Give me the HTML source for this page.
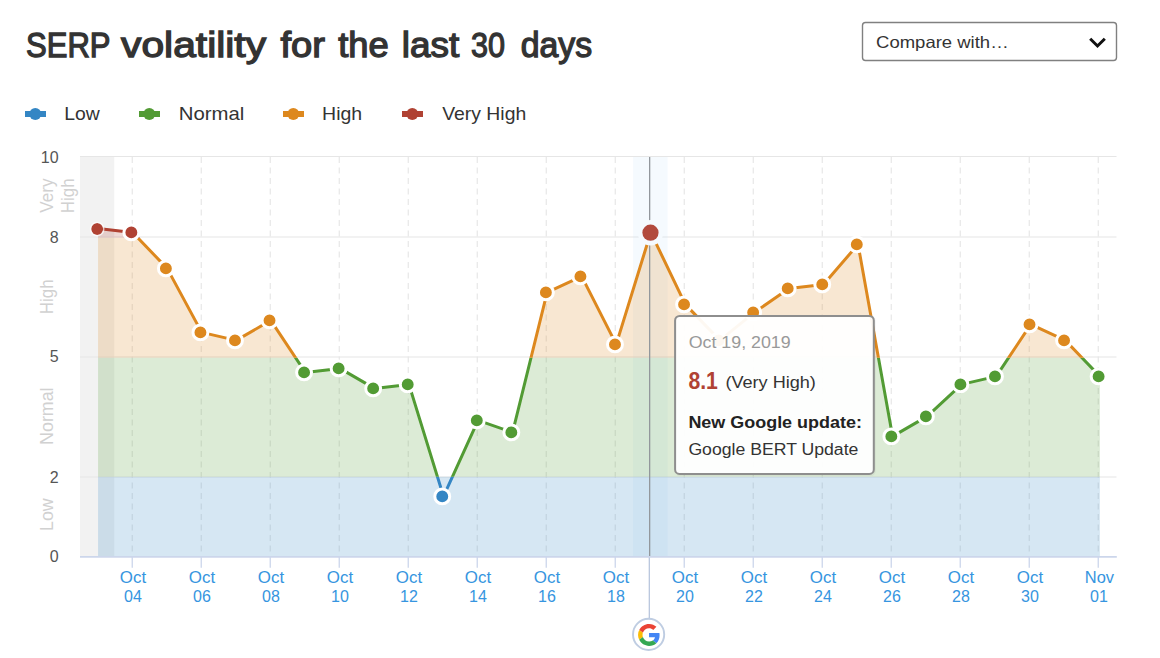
<!DOCTYPE html>
<html lang="en">
<head>
<meta charset="utf-8">
<title>SERP volatility for the last 30 days</title>
<style>
html,body{margin:0;padding:0;background:#fff;}
body{width:1160px;height:658px;overflow:hidden;font-family:"Liberation Sans", sans-serif;}
svg{display:block;}
text{font-family:"Liberation Sans", sans-serif;}
</style>
</head>
<body>
<svg width="1160" height="658" viewBox="0 0 1160 658">
<defs>
<clipPath id="zr"><rect x="0" y="0" width="1160" height="237.7"/></clipPath>
<clipPath id="zo"><rect x="0" y="237.7" width="1160" height="120"/></clipPath>
<clipPath id="zg"><rect x="0" y="357.7" width="1160" height="119.1"/></clipPath>
<clipPath id="zb"><rect x="0" y="476.8" width="1160" height="223.2"/></clipPath>
</defs>
<text x="26" y="57.4" font-size="35" fill="#333333" stroke="#333333" stroke-width="1.3" textLength="84.51" lengthAdjust="spacingAndGlyphs">SERP</text>
<text x="121" y="57.4" font-size="35" fill="#333333" stroke="#333333" stroke-width="1.3" textLength="145.04" lengthAdjust="spacingAndGlyphs">volatility</text>
<text x="280.5" y="57.4" font-size="35" fill="#333333" stroke="#333333" stroke-width="1.3" textLength="44.57" lengthAdjust="spacingAndGlyphs">for</text>
<text x="338.2" y="57.4" font-size="35" fill="#333333" stroke="#333333" stroke-width="1.3" textLength="50.52" lengthAdjust="spacingAndGlyphs">the</text>
<text x="401.8" y="57.4" font-size="35" fill="#333333" stroke="#333333" stroke-width="1.3" textLength="57.51" lengthAdjust="spacingAndGlyphs">last</text>
<text x="471" y="57.4" font-size="35" fill="#333333" stroke="#333333" stroke-width="1.3" textLength="34.01" lengthAdjust="spacingAndGlyphs">30</text>
<text x="520.7" y="57.4" font-size="35" fill="#333333" stroke="#333333" stroke-width="1.3" textLength="71.51" lengthAdjust="spacingAndGlyphs">days</text>
<rect x="862.5" y="22.5" width="254" height="38" rx="3" ry="3" fill="#ffffff" stroke="#808080" stroke-width="1.4"/>
<text x="876.1" y="48.1" font-size="16.5" fill="#333333" textLength="132.54" lengthAdjust="spacingAndGlyphs">Compare with…</text>
<path d="M1090.2 38.8 L1097.5 46 L1104.8 38.8" fill="none" stroke="#111111" stroke-width="3" stroke-linejoin="miter"/>
<rect x="25" y="111" width="21" height="6" fill="#3486c4"/><circle cx="35.3" cy="114" r="6" fill="#3486c4"/>
<text x="64.2" y="119.8" font-size="19" fill="#333333" textLength="35.53" lengthAdjust="spacingAndGlyphs">Low</text>
<rect x="139" y="111" width="21" height="6" fill="#529b34"/><circle cx="149.3" cy="114" r="6" fill="#529b34"/>
<text x="178.8" y="119.8" font-size="19" fill="#333333" textLength="65.53" lengthAdjust="spacingAndGlyphs">Normal</text>
<rect x="283" y="111" width="21" height="6" fill="#dd881e"/><circle cx="293.3" cy="114" r="6" fill="#dd881e"/>
<text x="322.1" y="119.8" font-size="19" fill="#333333" textLength="40.06" lengthAdjust="spacingAndGlyphs">High</text>
<rect x="402" y="111" width="21" height="6" fill="#b04233"/><circle cx="412.3" cy="114" r="6" fill="#b04233"/>
<text x="442.2" y="119.8" font-size="19" fill="#333333" textLength="84.01" lengthAdjust="spacingAndGlyphs">Very High</text>
<rect x="80" y="156.5" width="34.2725" height="400.5" fill="#f2f2f2"/>
<line x1="80" y1="156.4" x2="1116.5" y2="156.4" stroke="#e6e6e6" stroke-width="1.05"/>
<line x1="80" y1="237" x2="1116.5" y2="237" stroke="#e6e6e6" stroke-width="1.05"/>
<line x1="80" y1="357" x2="1116.5" y2="357" stroke="#e6e6e6" stroke-width="1.05"/>
<line x1="80" y1="477" x2="1116.5" y2="477" stroke="#e6e6e6" stroke-width="1.05"/>
<line x1="132.25" y1="157" x2="132.25" y2="557" stroke="#e6e6e6" stroke-width="1.15" stroke-dasharray="6 4.5"/>
<line x1="201.25" y1="157" x2="201.25" y2="557" stroke="#e6e6e6" stroke-width="1.15" stroke-dasharray="6 4.5"/>
<line x1="270.25" y1="157" x2="270.25" y2="557" stroke="#e6e6e6" stroke-width="1.15" stroke-dasharray="6 4.5"/>
<line x1="339.25" y1="157" x2="339.25" y2="557" stroke="#e6e6e6" stroke-width="1.15" stroke-dasharray="6 4.5"/>
<line x1="408.25" y1="157" x2="408.25" y2="557" stroke="#e6e6e6" stroke-width="1.15" stroke-dasharray="6 4.5"/>
<line x1="477.25" y1="157" x2="477.25" y2="557" stroke="#e6e6e6" stroke-width="1.15" stroke-dasharray="6 4.5"/>
<line x1="546.25" y1="157" x2="546.25" y2="557" stroke="#e6e6e6" stroke-width="1.15" stroke-dasharray="6 4.5"/>
<line x1="615.25" y1="157" x2="615.25" y2="557" stroke="#e6e6e6" stroke-width="1.15" stroke-dasharray="6 4.5"/>
<line x1="684.25" y1="157" x2="684.25" y2="557" stroke="#e6e6e6" stroke-width="1.15" stroke-dasharray="6 4.5"/>
<line x1="753.25" y1="157" x2="753.25" y2="557" stroke="#e6e6e6" stroke-width="1.15" stroke-dasharray="6 4.5"/>
<line x1="822.25" y1="157" x2="822.25" y2="557" stroke="#e6e6e6" stroke-width="1.15" stroke-dasharray="6 4.5"/>
<line x1="891.25" y1="157" x2="891.25" y2="557" stroke="#e6e6e6" stroke-width="1.15" stroke-dasharray="6 4.5"/>
<line x1="960.25" y1="157" x2="960.25" y2="557" stroke="#e6e6e6" stroke-width="1.15" stroke-dasharray="6 4.5"/>
<line x1="1029.25" y1="157" x2="1029.25" y2="557" stroke="#e6e6e6" stroke-width="1.15" stroke-dasharray="6 4.5"/>
<line x1="1098.25" y1="157" x2="1098.25" y2="557" stroke="#e6e6e6" stroke-width="1.15" stroke-dasharray="6 4.5"/>
<rect x="633.05" y="157" width="34.55" height="400" fill="#cfe6fa" fill-opacity="0.2"/>
<path d="M98.05 557.00 L98.05 228.40 L132.60 232.40 L167.14 268.40 L201.69 332.40 L236.23 340.40 L270.78 320.40 L305.32 372.40 L339.87 368.40 L374.41 388.40 L408.96 384.40 L443.50 496.40 L478.05 420.40 L512.59 432.40 L547.13 292.40 L581.68 276.40 L616.23 344.40 L650.77 232.40 L685.31 304.40 L719.86 340.40 L754.40 312.40 L788.95 288.40 L823.50 284.40 L858.04 244.40 L892.59 436.40 L927.13 416.40 L961.67 384.40 L996.22 376.40 L1030.77 324.40 L1065.31 340.40 L1099.86 376.40 L1099.86 557.00 Z" fill="#b04233" fill-opacity="0.2" clip-path="url(#zr)"/>
<path d="M98.05 557.00 L98.05 228.40 L132.60 232.40 L167.14 268.40 L201.69 332.40 L236.23 340.40 L270.78 320.40 L305.32 372.40 L339.87 368.40 L374.41 388.40 L408.96 384.40 L443.50 496.40 L478.05 420.40 L512.59 432.40 L547.13 292.40 L581.68 276.40 L616.23 344.40 L650.77 232.40 L685.31 304.40 L719.86 340.40 L754.40 312.40 L788.95 288.40 L823.50 284.40 L858.04 244.40 L892.59 436.40 L927.13 416.40 L961.67 384.40 L996.22 376.40 L1030.77 324.40 L1065.31 340.40 L1099.86 376.40 L1099.86 557.00 Z" fill="#dd881e" fill-opacity="0.2" clip-path="url(#zo)"/>
<path d="M98.05 557.00 L98.05 228.40 L132.60 232.40 L167.14 268.40 L201.69 332.40 L236.23 340.40 L270.78 320.40 L305.32 372.40 L339.87 368.40 L374.41 388.40 L408.96 384.40 L443.50 496.40 L478.05 420.40 L512.59 432.40 L547.13 292.40 L581.68 276.40 L616.23 344.40 L650.77 232.40 L685.31 304.40 L719.86 340.40 L754.40 312.40 L788.95 288.40 L823.50 284.40 L858.04 244.40 L892.59 436.40 L927.13 416.40 L961.67 384.40 L996.22 376.40 L1030.77 324.40 L1065.31 340.40 L1099.86 376.40 L1099.86 557.00 Z" fill="#529b34" fill-opacity="0.2" clip-path="url(#zg)"/>
<rect x="98.05" y="476.8" width="1001.81" height="80.2" fill="#3486c4" fill-opacity="0.2"/>
<line x1="649.65" y1="157" x2="649.65" y2="557" stroke="#92979c" stroke-width="1.3"/>
<line x1="649.32" y1="557" x2="649.32" y2="618" stroke="#b9c7dd" stroke-width="1.3"/>
<line x1="80" y1="556.8" x2="1116.8" y2="556.8" stroke="#ccd6eb" stroke-width="1.7"/>
<line x1="132.25" y1="556.8" x2="132.25" y2="567.8" stroke="#ccd6eb" stroke-width="1.3"/>
<line x1="201.25" y1="556.8" x2="201.25" y2="567.8" stroke="#ccd6eb" stroke-width="1.3"/>
<line x1="270.25" y1="556.8" x2="270.25" y2="567.8" stroke="#ccd6eb" stroke-width="1.3"/>
<line x1="339.25" y1="556.8" x2="339.25" y2="567.8" stroke="#ccd6eb" stroke-width="1.3"/>
<line x1="408.25" y1="556.8" x2="408.25" y2="567.8" stroke="#ccd6eb" stroke-width="1.3"/>
<line x1="477.25" y1="556.8" x2="477.25" y2="567.8" stroke="#ccd6eb" stroke-width="1.3"/>
<line x1="546.25" y1="556.8" x2="546.25" y2="567.8" stroke="#ccd6eb" stroke-width="1.3"/>
<line x1="615.25" y1="556.8" x2="615.25" y2="567.8" stroke="#ccd6eb" stroke-width="1.3"/>
<line x1="684.25" y1="556.8" x2="684.25" y2="567.8" stroke="#ccd6eb" stroke-width="1.3"/>
<line x1="753.25" y1="556.8" x2="753.25" y2="567.8" stroke="#ccd6eb" stroke-width="1.3"/>
<line x1="822.25" y1="556.8" x2="822.25" y2="567.8" stroke="#ccd6eb" stroke-width="1.3"/>
<line x1="891.25" y1="556.8" x2="891.25" y2="567.8" stroke="#ccd6eb" stroke-width="1.3"/>
<line x1="960.25" y1="556.8" x2="960.25" y2="567.8" stroke="#ccd6eb" stroke-width="1.3"/>
<line x1="1029.25" y1="556.8" x2="1029.25" y2="567.8" stroke="#ccd6eb" stroke-width="1.3"/>
<line x1="1098.25" y1="556.8" x2="1098.25" y2="567.8" stroke="#ccd6eb" stroke-width="1.3"/>
<path d="M98.05 228.40 L132.60 232.40 L167.14 268.40 L201.69 332.40 L236.23 340.40 L270.78 320.40 L305.32 372.40 L339.87 368.40 L374.41 388.40 L408.96 384.40 L443.50 496.40 L478.05 420.40 L512.59 432.40 L547.13 292.40 L581.68 276.40 L616.23 344.40 L650.77 232.40 L685.31 304.40 L719.86 340.40 L754.40 312.40 L788.95 288.40 L823.50 284.40 L858.04 244.40 L892.59 436.40 L927.13 416.40 L961.67 384.40 L996.22 376.40 L1030.77 324.40 L1065.31 340.40 L1099.86 376.40" fill="none" stroke="#3486c4" stroke-width="3" stroke-linejoin="round" stroke-linecap="round" clip-path="url(#zb)"/>
<path d="M98.05 228.40 L132.60 232.40 L167.14 268.40 L201.69 332.40 L236.23 340.40 L270.78 320.40 L305.32 372.40 L339.87 368.40 L374.41 388.40 L408.96 384.40 L443.50 496.40 L478.05 420.40 L512.59 432.40 L547.13 292.40 L581.68 276.40 L616.23 344.40 L650.77 232.40 L685.31 304.40 L719.86 340.40 L754.40 312.40 L788.95 288.40 L823.50 284.40 L858.04 244.40 L892.59 436.40 L927.13 416.40 L961.67 384.40 L996.22 376.40 L1030.77 324.40 L1065.31 340.40 L1099.86 376.40" fill="none" stroke="#529b34" stroke-width="3" stroke-linejoin="round" stroke-linecap="round" clip-path="url(#zg)"/>
<path d="M98.05 228.40 L132.60 232.40 L167.14 268.40 L201.69 332.40 L236.23 340.40 L270.78 320.40 L305.32 372.40 L339.87 368.40 L374.41 388.40 L408.96 384.40 L443.50 496.40 L478.05 420.40 L512.59 432.40 L547.13 292.40 L581.68 276.40 L616.23 344.40 L650.77 232.40 L685.31 304.40 L719.86 340.40 L754.40 312.40 L788.95 288.40 L823.50 284.40 L858.04 244.40 L892.59 436.40 L927.13 416.40 L961.67 384.40 L996.22 376.40 L1030.77 324.40 L1065.31 340.40 L1099.86 376.40" fill="none" stroke="#dd881e" stroke-width="3" stroke-linejoin="round" stroke-linecap="round" clip-path="url(#zo)"/>
<path d="M98.05 228.40 L132.60 232.40 L167.14 268.40 L201.69 332.40 L236.23 340.40 L270.78 320.40 L305.32 372.40 L339.87 368.40 L374.41 388.40 L408.96 384.40 L443.50 496.40 L478.05 420.40 L512.59 432.40 L547.13 292.40 L581.68 276.40 L616.23 344.40 L650.77 232.40 L685.31 304.40 L719.86 340.40 L754.40 312.40 L788.95 288.40 L823.50 284.40 L858.04 244.40 L892.59 436.40 L927.13 416.40 L961.67 384.40 L996.22 376.40 L1030.77 324.40 L1065.31 340.40 L1099.86 376.40" fill="none" stroke="#b04233" stroke-width="3" stroke-linejoin="round" stroke-linecap="round" clip-path="url(#zr)"/>
<circle cx="97.15" cy="229.05" r="5.95" fill="#b04233"/>
<circle cx="97.15" cy="229.05" r="6.65" fill="none" stroke="#ffffff" stroke-width="1.4" stroke-opacity="0.7"/>
<circle cx="131.35" cy="232.40" r="7.45" fill="#b04233" stroke="#ffffff" stroke-width="3"/>
<circle cx="165.89" cy="268.40" r="7.45" fill="#dd881e" stroke="#ffffff" stroke-width="3"/>
<circle cx="200.44" cy="332.40" r="7.45" fill="#dd881e" stroke="#ffffff" stroke-width="3"/>
<circle cx="234.98" cy="340.40" r="7.45" fill="#dd881e" stroke="#ffffff" stroke-width="3"/>
<circle cx="269.53" cy="320.40" r="7.45" fill="#dd881e" stroke="#ffffff" stroke-width="3"/>
<circle cx="304.07" cy="372.40" r="7.45" fill="#529b34" stroke="#ffffff" stroke-width="3"/>
<circle cx="338.62" cy="368.40" r="7.45" fill="#529b34" stroke="#ffffff" stroke-width="3"/>
<circle cx="373.16" cy="388.40" r="7.45" fill="#529b34" stroke="#ffffff" stroke-width="3"/>
<circle cx="407.71" cy="384.40" r="7.45" fill="#529b34" stroke="#ffffff" stroke-width="3"/>
<circle cx="442.25" cy="496.40" r="7.45" fill="#3486c4" stroke="#ffffff" stroke-width="3"/>
<circle cx="476.80" cy="420.40" r="7.45" fill="#529b34" stroke="#ffffff" stroke-width="3"/>
<circle cx="511.34" cy="432.40" r="7.45" fill="#529b34" stroke="#ffffff" stroke-width="3"/>
<circle cx="545.88" cy="292.40" r="7.45" fill="#dd881e" stroke="#ffffff" stroke-width="3"/>
<circle cx="580.43" cy="276.40" r="7.45" fill="#dd881e" stroke="#ffffff" stroke-width="3"/>
<circle cx="614.98" cy="344.40" r="7.45" fill="#dd881e" stroke="#ffffff" stroke-width="3"/>
<circle cx="684.06" cy="304.40" r="7.45" fill="#dd881e" stroke="#ffffff" stroke-width="3"/>
<circle cx="718.61" cy="340.40" r="7.45" fill="#dd881e" stroke="#ffffff" stroke-width="3"/>
<circle cx="753.15" cy="312.40" r="7.45" fill="#dd881e" stroke="#ffffff" stroke-width="3"/>
<circle cx="787.70" cy="288.40" r="7.45" fill="#dd881e" stroke="#ffffff" stroke-width="3"/>
<circle cx="822.25" cy="284.40" r="7.45" fill="#dd881e" stroke="#ffffff" stroke-width="3"/>
<circle cx="856.79" cy="244.40" r="7.45" fill="#dd881e" stroke="#ffffff" stroke-width="3"/>
<circle cx="891.34" cy="436.40" r="7.45" fill="#529b34" stroke="#ffffff" stroke-width="3"/>
<circle cx="925.88" cy="416.40" r="7.45" fill="#529b34" stroke="#ffffff" stroke-width="3"/>
<circle cx="960.42" cy="384.40" r="7.45" fill="#529b34" stroke="#ffffff" stroke-width="3"/>
<circle cx="994.97" cy="376.40" r="7.45" fill="#529b34" stroke="#ffffff" stroke-width="3"/>
<circle cx="1029.52" cy="324.40" r="7.45" fill="#dd881e" stroke="#ffffff" stroke-width="3"/>
<circle cx="1064.06" cy="340.40" r="7.45" fill="#dd881e" stroke="#ffffff" stroke-width="3"/>
<circle cx="1098.61" cy="376.40" r="7.45" fill="#529b34" stroke="#ffffff" stroke-width="3"/>
<circle cx="650.47" cy="232.70" r="12.7" fill="#f5fafe"/><circle cx="650.47" cy="232.70" r="8.1" fill="#b24a3d"/>
<text x="58.6" y="162.6" font-size="16" fill="#555555" text-anchor="end">10</text>
<text x="58.6" y="242.5" font-size="16" fill="#555555" text-anchor="end">8</text>
<text x="58.6" y="362.3" font-size="16" fill="#555555" text-anchor="end">5</text>
<text x="58.6" y="482.5" font-size="16" fill="#555555" text-anchor="end">2</text>
<text x="58.6" y="561.8" font-size="16" fill="#555555" text-anchor="end">0</text>
<text transform="translate(52.8 195.6) rotate(-90)" font-size="17.5" fill="#d1d1d1" text-anchor="middle" textLength="34.3" lengthAdjust="spacingAndGlyphs">Very</text>
<text transform="translate(73.6 195.8) rotate(-90)" font-size="17.5" fill="#d1d1d1" text-anchor="middle" textLength="34.8" lengthAdjust="spacingAndGlyphs">High</text>
<text transform="translate(52.8 296.8) rotate(-90)" font-size="17.5" fill="#d1d1d1" text-anchor="middle" textLength="34.8" lengthAdjust="spacingAndGlyphs">High</text>
<text transform="translate(52.8 416.2) rotate(-90)" font-size="17.5" fill="#d1d1d1" text-anchor="middle" textLength="57.4" lengthAdjust="spacingAndGlyphs">Normal</text>
<text transform="translate(52.8 514.7) rotate(-90)" font-size="17.5" fill="#d1d1d1" text-anchor="middle" textLength="32.6" lengthAdjust="spacingAndGlyphs">Low</text>
<text x="132.95" y="582.8" font-size="16" fill="#3695e0" text-anchor="middle" textLength="26.3" lengthAdjust="spacingAndGlyphs">Oct</text>
<text x="132.95" y="601.8" font-size="16" fill="#3695e0" text-anchor="middle">04</text>
<text x="201.95" y="582.8" font-size="16" fill="#3695e0" text-anchor="middle" textLength="26.3" lengthAdjust="spacingAndGlyphs">Oct</text>
<text x="201.95" y="601.8" font-size="16" fill="#3695e0" text-anchor="middle">06</text>
<text x="270.95" y="582.8" font-size="16" fill="#3695e0" text-anchor="middle" textLength="26.3" lengthAdjust="spacingAndGlyphs">Oct</text>
<text x="270.95" y="601.8" font-size="16" fill="#3695e0" text-anchor="middle">08</text>
<text x="339.95" y="582.8" font-size="16" fill="#3695e0" text-anchor="middle" textLength="26.3" lengthAdjust="spacingAndGlyphs">Oct</text>
<text x="339.95" y="601.8" font-size="16" fill="#3695e0" text-anchor="middle">10</text>
<text x="408.95" y="582.8" font-size="16" fill="#3695e0" text-anchor="middle" textLength="26.3" lengthAdjust="spacingAndGlyphs">Oct</text>
<text x="408.95" y="601.8" font-size="16" fill="#3695e0" text-anchor="middle">12</text>
<text x="477.95" y="582.8" font-size="16" fill="#3695e0" text-anchor="middle" textLength="26.3" lengthAdjust="spacingAndGlyphs">Oct</text>
<text x="477.95" y="601.8" font-size="16" fill="#3695e0" text-anchor="middle">14</text>
<text x="546.95" y="582.8" font-size="16" fill="#3695e0" text-anchor="middle" textLength="26.3" lengthAdjust="spacingAndGlyphs">Oct</text>
<text x="546.95" y="601.8" font-size="16" fill="#3695e0" text-anchor="middle">16</text>
<text x="615.95" y="582.8" font-size="16" fill="#3695e0" text-anchor="middle" textLength="26.3" lengthAdjust="spacingAndGlyphs">Oct</text>
<text x="615.95" y="601.8" font-size="16" fill="#3695e0" text-anchor="middle">18</text>
<text x="684.95" y="582.8" font-size="16" fill="#3695e0" text-anchor="middle" textLength="26.3" lengthAdjust="spacingAndGlyphs">Oct</text>
<text x="684.95" y="601.8" font-size="16" fill="#3695e0" text-anchor="middle">20</text>
<text x="753.95" y="582.8" font-size="16" fill="#3695e0" text-anchor="middle" textLength="26.3" lengthAdjust="spacingAndGlyphs">Oct</text>
<text x="753.95" y="601.8" font-size="16" fill="#3695e0" text-anchor="middle">22</text>
<text x="822.95" y="582.8" font-size="16" fill="#3695e0" text-anchor="middle" textLength="26.3" lengthAdjust="spacingAndGlyphs">Oct</text>
<text x="822.95" y="601.8" font-size="16" fill="#3695e0" text-anchor="middle">24</text>
<text x="891.95" y="582.8" font-size="16" fill="#3695e0" text-anchor="middle" textLength="26.3" lengthAdjust="spacingAndGlyphs">Oct</text>
<text x="891.95" y="601.8" font-size="16" fill="#3695e0" text-anchor="middle">26</text>
<text x="960.95" y="582.8" font-size="16" fill="#3695e0" text-anchor="middle" textLength="26.3" lengthAdjust="spacingAndGlyphs">Oct</text>
<text x="960.95" y="601.8" font-size="16" fill="#3695e0" text-anchor="middle">28</text>
<text x="1029.95" y="582.8" font-size="16" fill="#3695e0" text-anchor="middle" textLength="26.3" lengthAdjust="spacingAndGlyphs">Oct</text>
<text x="1029.95" y="601.8" font-size="16" fill="#3695e0" text-anchor="middle">30</text>
<text x="1099.45" y="582.8" font-size="16" fill="#3695e0" text-anchor="middle" textLength="29.2" lengthAdjust="spacingAndGlyphs">Nov</text>
<text x="1098.95" y="601.8" font-size="16" fill="#3695e0" text-anchor="middle">01</text>
<circle cx="648.6" cy="634.4" r="15.6" fill="#ffffff" stroke="#bfcde2" stroke-width="1.9"/>
<g transform="translate(638.05 623.9) scale(0.458333)">
<path fill="#EA4335" d="M24 9.5c3.54 0 6.71 1.22 9.21 3.6l6.85-6.85C35.9 2.38 30.47 0 24 0 14.62 0 6.51 5.38 2.56 13.22l7.98 6.19C12.43 13.72 17.74 9.5 24 9.5z"/>
<path fill="#4285F4" d="M46.98 24.55c0-1.57-.15-3.09-.38-4.55H24v9.02h12.94c-.58 2.96-2.26 5.48-4.78 7.18l7.73 6c4.51-4.18 7.09-10.36 7.09-17.65z"/>
<path fill="#FBBC05" d="M10.53 28.59c-.48-1.45-.76-2.99-.76-4.59s.27-3.14.76-4.59l-7.98-6.19C.92 16.46 0 20.12 0 24c0 3.88.92 7.54 2.56 10.78l7.97-6.19z"/>
<path fill="#34A853" d="M24 48c6.48 0 11.93-2.13 15.89-5.81l-7.73-6c-2.15 1.45-4.92 2.3-8.16 2.3-6.26 0-11.57-4.22-13.47-9.91l-7.98 6.19C6.51 42.62 14.62 48 24 48z"/>
</g>
<rect x="675.9" y="316.7" width="198.7" height="158" rx="4" ry="4" fill="none" stroke="#000000" stroke-opacity="0.04" stroke-width="2.4"/>
<rect x="675.1" y="315.9" width="198.7" height="158" rx="4.5" ry="4.5" fill="#ffffff" fill-opacity="0.945" stroke="#8e8e8e" stroke-width="2"/>
<text x="688.7" y="347.5" font-size="16" fill="#999999" textLength="102.01" lengthAdjust="spacingAndGlyphs">Oct 19, 2019</text>
<text x="688.4" y="389.0" font-size="23.6" font-weight="700" fill="#b04233" textLength="29.5" lengthAdjust="spacingAndGlyphs">8.1</text>
<text x="725.4" y="388.4" font-size="16" fill="#333333" textLength="90.52" lengthAdjust="spacingAndGlyphs">(Very High)</text>
<text x="688.4" y="428.0" font-size="16" font-weight="700" fill="#222222" textLength="173.51" lengthAdjust="spacingAndGlyphs">New Google update:</text>
<text x="688.4" y="455.1" font-size="16" fill="#333333" textLength="170" lengthAdjust="spacingAndGlyphs">Google BERT Update</text>
</svg>
</body>
</html>
